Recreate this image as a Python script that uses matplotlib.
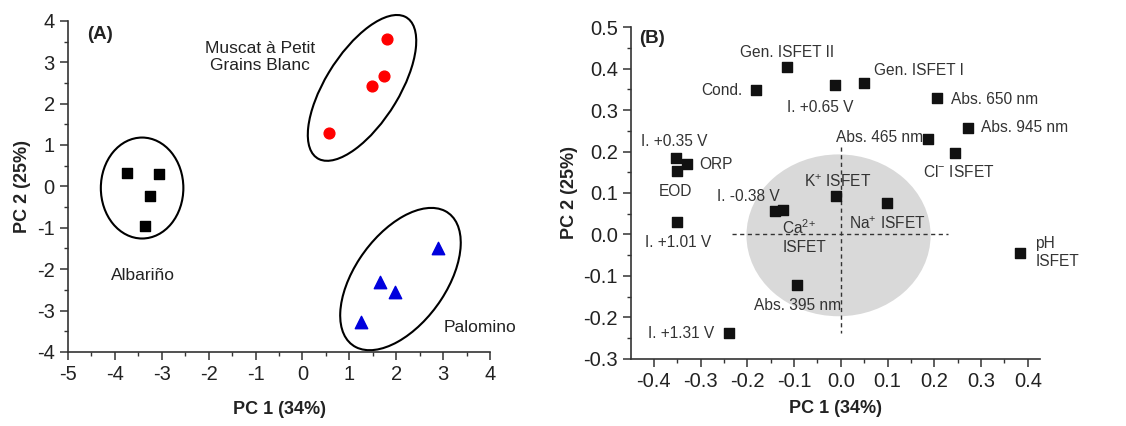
import matplotlib
matplotlib.use("Agg")
import matplotlib.pyplot as plt
from matplotlib.patches import Ellipse
from matplotlib.ticker import MultipleLocator, FormatStrFormatter

plt.rcParams['font.family'] = ['Liberation Sans', 'DejaVu Sans']
plt.rcParams['mathtext.fontset'] = 'custom'
plt.rcParams['mathtext.rm'] = 'Liberation Sans'
plt.rcParams['mathtext.default'] = 'regular'
plt.rcParams['axes.unicode_minus'] = False

# (A) scores of the wine samples on PC1 / PC2
albarino_x = [-3.75, -3.05, -3.26, -3.35]
albarino_y = [0.33, 0.30, -0.24, -0.95]
muscat_x = [1.81, 1.74, 1.49, 0.57]
muscat_y = [3.56, 2.66, 2.42, 1.30]
palomino_x = [2.88, 1.66, 1.97, 1.24]
palomino_y = [-1.48, -2.30, -2.56, -3.27]

# (B) loadings of the sensor variables
var_names = ["Gen. ISFET II", "Cond.", "I. +0.65 V", "Gen. ISFET I", "Abs. 650 nm",
             "Abs. 945 nm", "Abs. 465 nm", "Cl- ISFET", "I. +0.35 V", "ORP", "EOD",
             "I. +1.01 V", "I. -0.38 V", "Ca2+ ISFET", "K+ ISFET", "Na+ ISFET",
             "pH ISFET", "Abs. 395 nm", "I. +1.31 V"]
load_x = [-0.116, -0.181, -0.013, 0.049, 0.205, 0.271, 0.186, 0.244, -0.352, -0.329,
          -0.351, -0.351, -0.140, -0.124, -0.011, 0.099, 0.384, -0.093, -0.240]
load_y = [0.404, 0.348, 0.361, 0.364, 0.330, 0.257, 0.231, 0.197, 0.185, 0.171,
          0.152, 0.030, 0.057, 0.060, 0.092, 0.075, -0.044, -0.122, -0.237]

txt = '#222222'
fig = plt.figure(figsize=(11.26, 4.26), dpi=100)
ax1 = fig.add_axes([0.0604, 0.174, 0.3748, 0.777])
ax2 = fig.add_axes([0.5604, 0.1573, 0.3632, 0.7793])


def style_axes(ax, xpad):
    for s in ['top', 'right']:
        ax.spines[s].set_visible(False)
    for s in ['left', 'bottom']:
        ax.spines[s].set_color('#333333')
        ax.spines[s].set_linewidth(1.2)
    ax.tick_params(which='major', direction='out', length=6, width=1.1,
                   labelsize=14.5, colors='#333333', labelcolor=txt)
    ax.tick_params(which='minor', direction='out', length=3, width=1.0, colors='#333333')
    ax.set_xlabel('PC 1 (34%)', fontsize=13, fontweight='bold', color=txt, labelpad=xpad)
    ax.set_ylabel('PC 2 (25%)', fontsize=13, fontweight='bold', color=txt, labelpad=4)


# ---- panel A ----
ax1.scatter(albarino_x, albarino_y, marker='s', s=60, color='black', zorder=3)
ax1.scatter(muscat_x, muscat_y, marker='o', s=60, color='#ff0000', zorder=3)
ax1.scatter(palomino_x, palomino_y, marker='^', s=80, color='#0000dd', zorder=3)

for c, w, h, a in [((-3.42, -0.04), 1.76, 2.44, 0),
                   ((1.27, 2.38), 3.9, 1.6, 62),
                   ((2.09, -2.24), 3.8, 2.0, 60)]:
    ax1.add_patch(Ellipse(c, w, h, angle=a, fill=False, ec='black', lw=1.5,
                          clip_on=False, zorder=2))

ax1.text(-0.9, 3.13, 'Muscat à Petit\nGrains Blanc', ha='center', va='center',
         fontsize=12.5, color=txt, linespacing=1.15)
ax1.text(-3.4, -2.15, 'Albariño', ha='center', va='center', fontsize=12.5, color=txt)
ax1.text(3.0, -3.4, 'Palomino', ha='left', va='center', fontsize=12.5, color=txt,
         clip_on=False)
ax1.text(-4.6, 3.68, '(A)', ha='left', va='center', fontsize=13.5, fontweight='bold',
         color=txt)

ax1.set_xlim(-5, 4)
ax1.set_ylim(-4, 4)
ax1.xaxis.set_major_locator(MultipleLocator(1))
ax1.xaxis.set_minor_locator(MultipleLocator(0.5))
ax1.yaxis.set_major_locator(MultipleLocator(1))
ax1.yaxis.set_minor_locator(MultipleLocator(0.5))
style_axes(ax1, 12)

# ---- panel B ----
ax2.add_patch(Ellipse((-0.005, -0.002), 0.394, 0.39, fc='#d9d9d9', ec='none', zorder=0))
ax2.plot([-0.232, 0.23], [0, 0], lw=1.0, color='#333333', dashes=(3, 2.5), zorder=1)
ax2.plot([0, 0], [0.21, -0.237], lw=1.0, color='#333333', dashes=(3, 2.5), zorder=1)
ax2.scatter(load_x, load_y, marker='s', s=50, color='#111111', zorder=3)

labels_b = [
    ("Gen. ISFET II", -0.116, 0.438, 'center'),
    ("Cond.", -0.211, 0.348, 'right'),
    ("I. +0.65 V", -0.045, 0.306, 'center'),
    ("Gen. ISFET I", 0.071, 0.396, 'left'),
    ("Abs. 650 nm", 0.236, 0.326, 'left'),
    ("Abs. 945 nm", 0.299, 0.257, 'left'),
    ("Abs. 465 nm", 0.176, 0.233, 'right'),
    ("Cl$^{-}$ ISFET", 0.175, 0.151, 'left'),
    ("I. +0.35 V", -0.427, 0.223, 'left'),
    ("ORP", -0.302, 0.169, 'left'),
    ("EOD", -0.354, 0.104, 'center'),
    ("I. -0.38 V", -0.266, 0.091, 'left'),
    ("K$^{+}$ ISFET", -0.079, 0.127, 'left'),
    ("Na$^{+}$ ISFET", 0.018, 0.026, 'left'),
    ("Ca$^{2{+}}$\nISFET", -0.125, -0.005, 'left'),
    ("pH\nISFET", 0.416, -0.043, 'left'),
    ("Abs. 395 nm", -0.186, -0.170, 'left'),
    ("I. +1.01 V", -0.42, -0.020, 'left'),
    ("I. +1.31 V", -0.27, -0.238, 'right'),
]
for s, x, y, ha in labels_b:
    ax2.text(x, y, s, ha=ha, va='center', fontsize=11.2, color='#333333',
             linespacing=1.2, clip_on=False, zorder=4)
ax2.text(-0.431, 0.472, '(B)', ha='left', va='center', fontsize=13.5, fontweight='bold',
         color=txt)

ax2.set_xlim(-0.449, 0.426)
ax2.set_ylim(-0.3, 0.5)
ax2.xaxis.set_major_locator(MultipleLocator(0.1))
ax2.xaxis.set_minor_locator(MultipleLocator(0.05))
ax2.yaxis.set_major_locator(MultipleLocator(0.1))
ax2.yaxis.set_minor_locator(MultipleLocator(0.05))
ax2.xaxis.set_major_formatter(FormatStrFormatter('%.1f'))
ax2.yaxis.set_major_formatter(FormatStrFormatter('%.1f'))
style_axes(ax2, 6)

fig.savefig('out.png', dpi=100)
